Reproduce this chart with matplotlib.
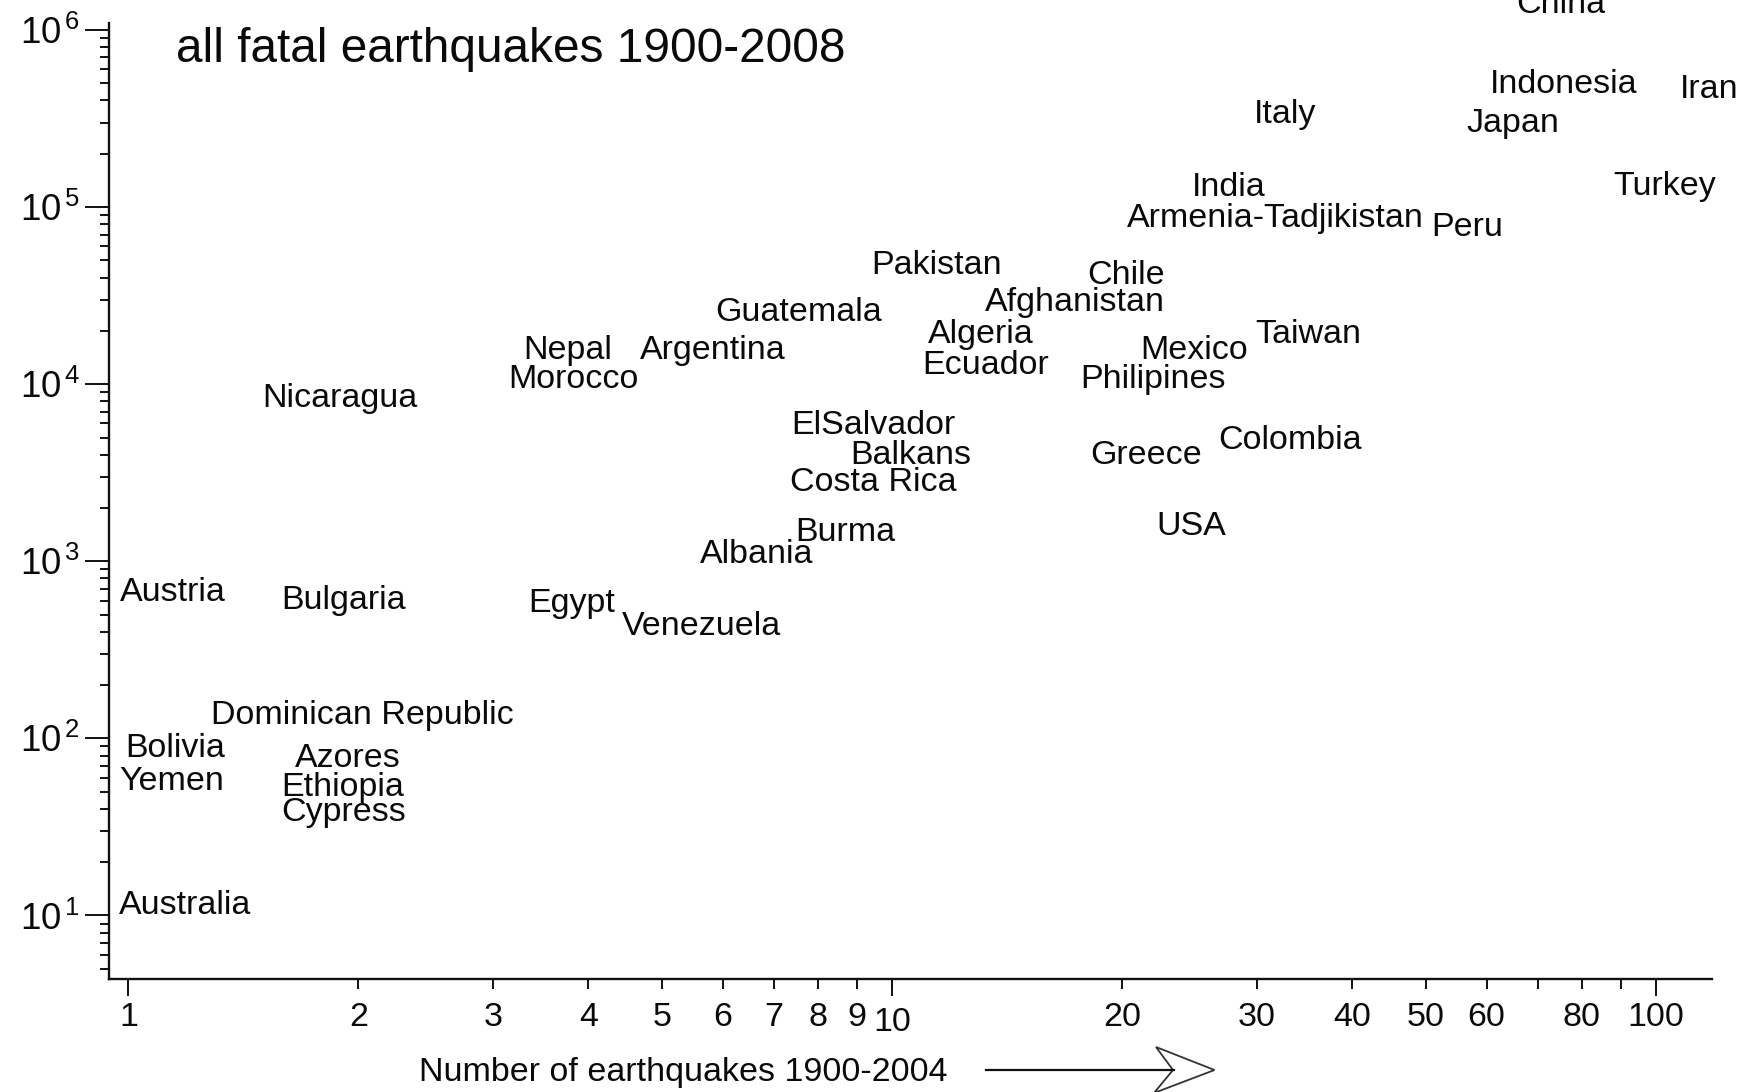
import numpy as np
import matplotlib
matplotlib.use("Agg")
import matplotlib.pyplot as plt
from matplotlib.ticker import FixedLocator, LogLocator, NullFormatter, FuncFormatter
from matplotlib.transforms import ScaledTranslation
from matplotlib.patches import Polygon
from matplotlib.lines import Line2D

plt.rcParams["font.family"] = ["Liberation Sans", "DejaVu Sans"]
plt.rcParams["mathtext.fontset"] = "custom"
plt.rcParams["mathtext.rm"] = "Liberation Sans"
plt.rcParams["mathtext.it"] = "Liberation Sans:italic"
plt.rcParams["mathtext.bf"] = "Liberation Sans:bold"

# Countries, number of earthquakes (1900-2004) and total deaths (1900-2008)
countries = [
    "China", "Indonesia", "Iran", "Italy", "Japan", "Turkey", "India",
    "Armenia-Tadjikistan", "Peru", "Pakistan", "Chile", "Guatemala",
    "Afghanistan", "Algeria", "Ecuador", "Nepal", "Morocco", "Argentina",
    "Mexico", "Taiwan", "Philipines", "Nicaragua", "ElSalvador", "Balkans",
    "Costa Rica", "Greece", "Colombia", "USA", "Burma", "Albania", "Austria",
    "Bulgaria", "Egypt", "Venezuela", "Dominican Republic", "Bolivia",
    "Yemen", "Azores", "Ethiopia", "Cypress", "Australia",
]
n_quakes = [
    75.1, 75.6, 117.4, 32.7, 64.9, 102.7, 27.6,
    31.7, 56.6, 11.42, 20.25, 7.55,
    17.34, 13.07, 13.25, 3.76, 3.83, 5.82,
    24.86, 35.06, 21.95, 1.89, 9.44, 10.58,
    9.44, 21.49, 33.2, 24.66, 8.69, 6.64, 1.144,
    1.915, 3.81, 5.63, 2.025, 1.15,
    1.14, 1.935, 1.91, 1.915, 1.188,
]
deaths = [
    1.47e6, 5.19e5, 4.83e5, 3.51e5, 3.13e5, 1.38e5, 1.36e5,
    9.04e4, 8.04e4, 4.94e4, 4.33e4, 2.68e4,
    3.05e4, 2.0e4, 1.335e4, 1.64e4, 1.12e4, 1.64e4,
    1.64e4, 2.0e4, 1.12e4, 8760, 6147, 4170,
    2944, 4195, 5045, 1658, 1522, 1146, 699,
    632, 605, 452, 142, 92.9,
    60.1, 80.6, 55.8, 40.3, 11.98,
]

x_ticks = [1, 2, 3, 4, 5, 6, 7, 8, 9, 10, 20, 30, 40, 50, 60, 70, 80, 90, 100]
x_ticklabels = ["1", "2", "3", "4", "5", "6", "7", "8", "9", "10",
                "20", "30", "40", "50", "60", "", "80", "", "100"]
x_long_ticks = [1, 10, 100]

title = "all fatal earthquakes 1900-2008"
xlabel = "Number of earthquakes 1900-2004"

INK = "#0a0a0a"

W, H = 1752, 1092
fig = plt.figure(figsize=(W / 100, H / 100), dpi=100)
ax = fig.add_axes([109 / W, (H - 979) / H, (1712 - 109) / W, (979 - 22.7) / H])

ax.set_xscale("log")
ax.set_yscale("log")
ax.set_xlim(0.943, 118.4)
ax.set_ylim(4.379, 1.0996e6)

for side in ("top", "right"):
    ax.spines[side].set_visible(False)
for side in ("left", "bottom"):
    ax.spines[side].set_linewidth(1.7)
    ax.spines[side].set_color("#111111")

# x axis: labelled short ticks plus long ticks at the decades
ax.xaxis.remove_overlapping_locs = False
ax.xaxis.set_major_locator(FixedLocator(x_ticks))
ax.set_xticklabels(x_ticklabels)
ax.xaxis.set_minor_locator(FixedLocator(x_long_ticks))
ax.xaxis.set_minor_formatter(NullFormatter())
ax.tick_params(axis="x", which="major", length=7.2, width=1.4, pad=9.0,
               labelsize=24.5, color="#111111", labelcolor=INK)
ax.tick_params(axis="x", which="minor", length=12.2, width=1.4, color="#111111")

# y axis: decades labelled as powers of ten
ax.yaxis.set_major_locator(LogLocator(base=10, numticks=20))
ax.yaxis.set_minor_locator(LogLocator(base=10, subs=np.arange(2, 10), numticks=20))
ax.yaxis.set_minor_formatter(NullFormatter())
ax.yaxis.set_major_formatter(
    FuncFormatter(lambda v, p: r"$\mathregular{10^{\,%d}}$" % int(round(np.log10(v)))))
ax.tick_params(axis="y", which="major", length=17.3, width=1.4, pad=3.5,
               labelsize=26.5, color="#111111", labelcolor=INK)
ax.tick_params(axis="y", which="minor", length=6.5, width=1.4, color="#111111")

# the "10" label sits a little lower than its neighbours
ten = ax.xaxis.get_major_ticks()[x_ticks.index(10)].label1
ten.set_transform(ten.get_transform() + ScaledTranslation(0, -0.055, fig.dpi_scale_trans))

# country names drawn centred on their points
name_trans = ax.transData + ScaledTranslation(0, -0.125, fig.dpi_scale_trans)
for name, nx, ny in zip(countries, n_quakes, deaths):
    ax.text(nx, ny, name, ha="center", va="baseline", fontsize=24.5,
            color=INK, transform=name_trans, clip_on=False)

fig.text(176.5 / W, 1 - 61.5 / H, title, fontsize=34.4, ha="left",
         va="baseline", color=INK)

fig.text(419 / W, 1 - 1081 / H, xlabel, fontsize=24.5, ha="left",
         va="baseline", color=INK)

# arrow pointing along the x axis
def fp(px, py):
    return (px / W, 1 - py / H)

fig.add_artist(Line2D([fp(985.5, 1070)[0], fp(1174, 1070)[0]],
                      [fp(985.5, 1070)[1], fp(1174, 1070)[1]],
                      transform=fig.transFigure, color="#111111", lw=1.6))
head = Polygon([fp(1214.5, 1070), fp(1156, 1047), fp(1173, 1070), fp(1154, 1093)],
               closed=True, transform=fig.transFigure, facecolor="white",
               edgecolor="#333333", lw=1.3)
fig.add_artist(head)

fig.savefig("out.png", dpi=100)
